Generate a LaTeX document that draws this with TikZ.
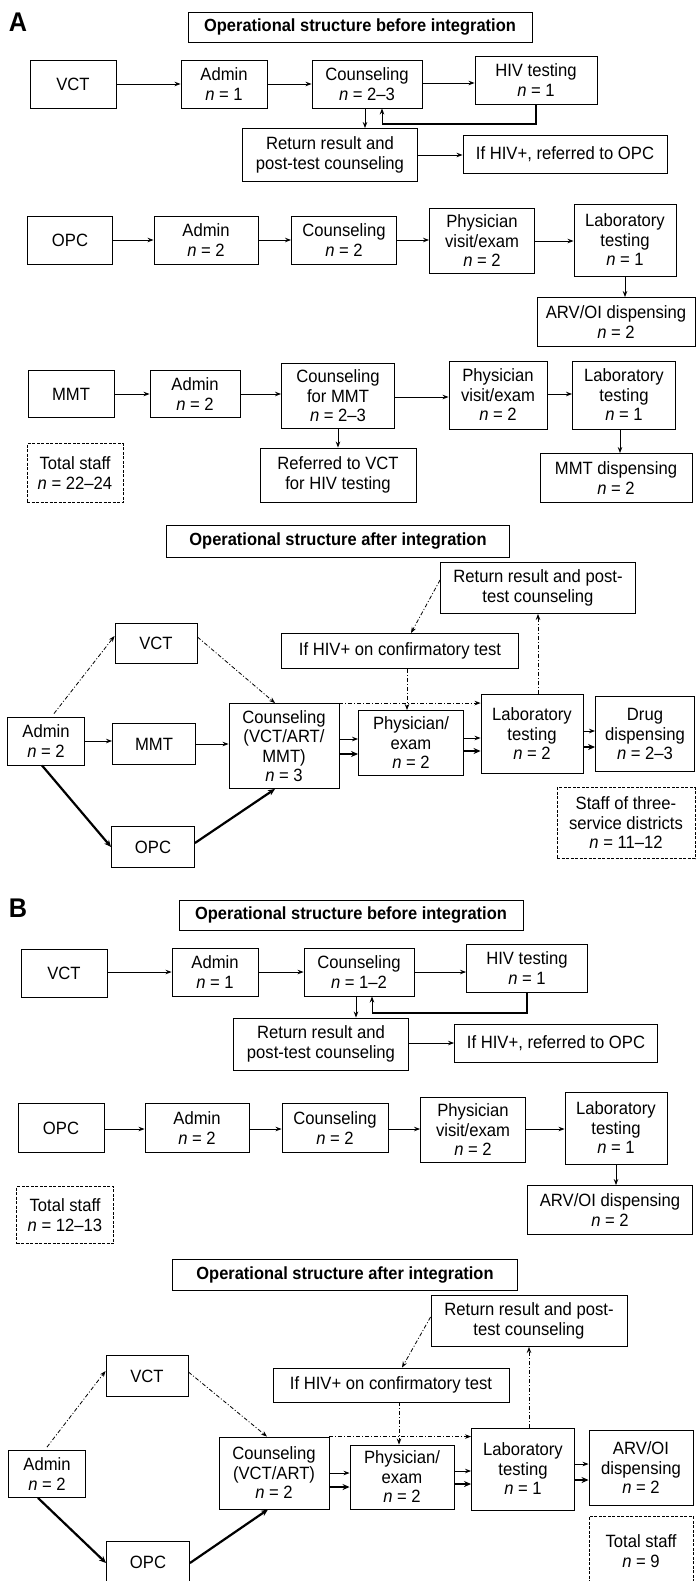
\documentclass[tikz,border=0pt]{standalone}
\usepackage{fontspec}
\setmainfont{Liberation Sans}[FakeStretch=0.935]
\usetikzlibrary{arrows.meta}
\newcommand{\nvar}{\textit{n}}
\tikzset{
 box/.style={draw, line width=0.9pt, align=center, inner sep=0pt, font=\fontsize{17.8}{19.5}\selectfont},
 dbox/.style={box, dash pattern=on 3pt off 1.5pt, line width=0.8pt},
 ttl/.style={box, font=\fontsize{17.6}{19.5}\selectfont\bfseries},
 lbl/.style={font=\fontsize{27}{30}\selectfont\bfseries, inner sep=0pt},
 arr/.style={line width=0.9pt, -{Stealth[length=6pt,width=4.5pt]}},
 tarr/.style={line width=2.2pt, -{Stealth[length=7pt,width=6pt]}},
 darr/.style={line width=0.8pt, dash pattern=on 4pt off 2pt on 1pt off 2pt, -{Stealth[length=6pt,width=4.5pt]}},
}
\begin{document}
\begin{tikzpicture}[x=1pt,y=-1pt]
\fill[white] (0,0) rectangle (696,1581);
\useasboundingbox (0,0) rectangle (696,1581);
\clip (0,0) rectangle (696,1581);

% ===== A: before =====
\node[lbl] (aLab0) at (18,22) {A};
\node[ttl, minimum width=344, minimum height=30] (aTitle) at (360,27) {Operational structure before integration};
\node[box, minimum width=86, minimum height=48] (aVCT) at (73,84) {VCT};
\node[box, minimum width=86, minimum height=48] (aAdm) at (224,84) {Admin\\\nvar{} = 1};
\node[box, minimum width=110, minimum height=48] (aCou) at (367,84) {Counseling\\\nvar{} = 2–3};
\node[box, minimum width=122, minimum height=48] (aHIV) at (536,80) {HIV testing\\\nvar{} = 1};
\node[box, minimum width=175, minimum height=53] (aRet) at (330,155) {Return result and\\post-test counseling};
\node[box, minimum width=204, minimum height=38] (aIf) at (565,154) {If HIV+, referred to OPC};
\draw[arr] (aVCT.east) -- (aVCT.east -| aAdm.west);
\draw[arr] (aAdm.east) -- (aAdm.east -| aCou.west);
\draw[arr] (aCou.east |- 0,83) -- (aHIV.west |- 0,83);
\coordinate (aFb) at (382,124);
\draw[line width=2.2pt] (aHIV.south) |- (aFb);
\draw[arr] (aFb) -- (aFb |- aCou.south);
\draw[arr] (aCou.south -| 365,0) -- (365,0 |- aRet.north);
\draw[arr] (aRet.east) -- (aRet.east -| aIf.west);

\node[box, minimum width=85, minimum height=48] (aOPC) at (70,240) {OPC};
\node[box, minimum width=104, minimum height=48] (aAdm2) at (206,240) {Admin\\\nvar{} = 2};
\node[box, minimum width=105, minimum height=48] (aCou2) at (344,240) {Counseling\\\nvar{} = 2};
\node[box, minimum width=105, minimum height=65] (aPhy) at (482,241) {Physician\\visit/exam\\\nvar{} = 2};
\node[box, minimum width=102, minimum height=72] (aLab) at (625,240) {Laboratory\\testing\\\nvar{} = 1};
\node[box, minimum width=158, minimum height=49] (aARV) at (616,322) {ARV/OI dispensing\\\nvar{} = 2};
\draw[arr] (aOPC.east) -- (aOPC.east -| aAdm2.west);
\draw[arr] (aAdm2.east) -- (aAdm2.east -| aCou2.west);
\draw[arr] (aCou2.east) -- (aCou2.east -| aPhy.west);
\draw[arr] (aPhy.east |- 0,241) -- (aLab.west |- 0,241);
\draw[arr] (aLab.south) -- (aLab.south |- aARV.north);

\node[box, minimum width=86, minimum height=47] (aMMT) at (71,394) {MMT};
\node[box, minimum width=90, minimum height=47] (aAdm3) at (195,394) {Admin\\\nvar{} = 2};
\node[box, minimum width=113, minimum height=65] (aCou3) at (338,396) {Counseling\\for MMT\\\nvar{} = 2–3};
\node[box, minimum width=98, minimum height=68] (aPhy3) at (498,395) {Physician\\visit/exam\\\nvar{} = 2};
\node[box, minimum width=103, minimum height=68] (aLab3) at (624,395) {Laboratory\\testing\\\nvar{} = 1};
\node[box, minimum width=156, minimum height=54] (aRef) at (338,475) {Referred to VCT\\for HIV testing};
\node[box, minimum width=152, minimum height=49] (aMD) at (616,478) {MMT dispensing\\\nvar{} = 2};
\node[dbox, minimum width=96, minimum height=59] (aTot) at (75,473) {Total staff\\\nvar{} = 22–24};
\draw[arr] (aMMT.east) -- (aMMT.east -| aAdm3.west);
\draw[arr] (aAdm3.east |- 0,394) -- (aCou3.west |- 0,394);
\draw[arr] (aCou3.east |- 0,397) -- (aPhy3.west |- 0,397);
\draw[arr] (aPhy3.east |- 0,394) -- (aLab3.west |- 0,394);
\draw[arr] (aCou3.south) -- (aCou3.south |- aRef.north);
\draw[arr] (aLab3.south -| 620,0) -- (620,0 |- aMD.north);

% ===== A: after =====
\node[ttl, minimum width=343, minimum height=32] (aTitle2) at (338,541) {Operational structure after integration};
\node[box, minimum width=195, minimum height=51] (aRet2) at (538,588) {Return result and post-\\test counseling};
\node[box, minimum width=82, minimum height=40] (aVCT2) at (156,643) {VCT};
\node[box, minimum width=237, minimum height=35] (aIf2) at (400,651) {If HIV+ on confirmatory test};
\node[box, minimum width=77, minimum height=48] (aAdm4) at (46,741) {Admin\\\nvar{} = 2};
\node[box, minimum width=83, minimum height=41] (aMMT2) at (154,744) {MMT};
\node[box, minimum width=110, minimum height=85] (aCou4) at (284,746) {Counseling\\(VCT/ART/\\MMT)\\\nvar{} = 3};
\node[box, minimum width=105, minimum height=65] (aPhy4) at (411,743) {Physician/\\exam\\\nvar{} = 2};
\node[box, minimum width=102, minimum height=79] (aLab4) at (532,734) {Laboratory\\testing\\\nvar{} = 2};
\node[box, minimum width=99, minimum height=75] (aDrug) at (645,734) {Drug\\dispensing\\\nvar{} = 2–3};
\node[box, minimum width=83, minimum height=41] (aOPC2) at (153,847) {OPC};
\node[dbox, minimum width=138, minimum height=71] (aStaff) at (626,823) {Staff of three-\\service districts\\\nvar{} = 11–12};
\draw[darr] ([xshift=8pt,yshift=3pt]aAdm4.north) -- ([yshift=7pt]aVCT2.west);
\draw[darr] ([yshift=6pt]aVCT2.east) -- ([xshift=-9pt]aCou4.north);
\draw[arr] (aAdm4.east) -- (aAdm4.east -| aMMT2.west);
\draw[arr] (aMMT2.east) -- (aMMT2.east -| aCou4.west);
\draw[tarr] ([xshift=-4pt]aAdm4.south) -- (aOPC2.west);
\draw[tarr] ([yshift=4pt]aOPC2.east) -- ([xshift=-9pt]aCou4.south);
\draw[arr] (aCou4.east |- 0,739) -- (aPhy4.west |- 0,739);
\draw[tarr] (aCou4.east |- 0,754) -- (aPhy4.west |- 0,754);
\draw[arr] (aPhy4.east |- 0,738) -- (aLab4.west |- 0,738);
\draw[tarr] (aPhy4.east |- 0,751) -- (aLab4.west |- 0,751);
\draw[arr] (aLab4.east |- 0,731) -- (aDrug.west |- 0,731);
\draw[tarr] (aLab4.east |- 0,747) -- (aDrug.west |- 0,747);
\draw[darr] (aCou4.north east) -- (aCou4.north east -| aLab4.west);
\draw[darr] (aIf2.south -| 407,0) -- (407,0 |- aPhy4.north);
\draw[darr] (aLab4.north -| 538,0) -- (538,0 |- aRet2.south);
\draw[darr] ([yshift=8pt]aRet2.west) -- (aIf2.north -| 411,0);

% ===== B: before =====
\node[lbl] (bLab0) at (18,908) {B};
\node[ttl, minimum width=344, minimum height=30] (bTitle) at (351,915) {Operational structure before integration};
\node[box, minimum width=86, minimum height=48] (bVCT) at (64,973) {VCT};
\node[box, minimum width=86, minimum height=48] (bAdm) at (215,972) {Admin\\\nvar{} = 1};
\node[box, minimum width=110, minimum height=48] (bCou) at (359,972) {Counseling\\\nvar{} = 1–2};
\node[box, minimum width=121, minimum height=48] (bHIV) at (527,968) {HIV testing\\\nvar{} = 1};
\node[box, minimum width=175, minimum height=52] (bRet) at (321,1044) {Return result and\\post-test counseling};
\node[box, minimum width=203, minimum height=38] (bIf) at (556,1043) {If HIV+, referred to OPC};
\draw[arr] (bVCT.east |- 0,972) -- (bAdm.west |- 0,972);
\draw[arr] (bAdm.east) -- (bAdm.east -| bCou.west);
\draw[arr] (bCou.east) -- (bCou.east -| bHIV.west);
\coordinate (bFb) at (372,1013);
\draw[line width=2.2pt] (bHIV.south) |- (bFb);
\draw[arr] (bFb) -- (bFb |- bCou.south);
\draw[arr] (bCou.south -| 356,0) -- (356,0 |- bRet.north);
\draw[arr] (bRet.east |- 0,1043) -- (bIf.west |- 0,1043);

\node[box, minimum width=86, minimum height=49] (bOPC) at (61,1128) {OPC};
\node[box, minimum width=104, minimum height=49] (bAdm2) at (197,1128) {Admin\\\nvar{} = 2};
\node[box, minimum width=106, minimum height=49] (bCou2) at (335,1128) {Counseling\\\nvar{} = 2};
\node[box, minimum width=105, minimum height=65] (bPhy) at (473,1130) {Physician\\visit/exam\\\nvar{} = 2};
\node[box, minimum width=102, minimum height=72] (bLab) at (616,1128) {Laboratory\\testing\\\nvar{} = 1};
\node[box, minimum width=165, minimum height=49] (bARV) at (610,1210) {ARV/OI dispensing\\\nvar{} = 2};
\node[dbox, minimum width=97, minimum height=57] (bTot) at (65,1215) {Total staff\\\nvar{} = 12–13};
\draw[arr] (bOPC.east |- 0,1129) -- (bAdm2.west |- 0,1129);
\draw[arr] (bAdm2.east |- 0,1129) -- (bCou2.west |- 0,1129);
\draw[arr] (bCou2.east |- 0,1129) -- (bPhy.west |- 0,1129);
\draw[arr] (bPhy.east |- 0,1129) -- (bLab.west |- 0,1129);
\draw[arr] (bLab.south) -- (bLab.south |- bARV.north);

% ===== B: after =====
\node[ttl, minimum width=345, minimum height=31] (bTitle2) at (345,1275) {Operational structure after integration};
\node[box, minimum width=196, minimum height=51] (bRet2) at (529,1321) {Return result and post-\\test counseling};
\node[box, minimum width=82, minimum height=41] (bVCT2) at (147,1376) {VCT};
\node[box, minimum width=236, minimum height=34] (bIf2) at (391,1385) {If HIV+ on confirmatory test};
\node[box, minimum width=77, minimum height=47] (bAdm3) at (47,1474) {Admin\\\nvar{} = 2};
\node[box, minimum width=110, minimum height=72] (bCou3) at (274,1473) {Counseling\\(VCT/ART)\\\nvar{} = 2};
\node[box, minimum width=104, minimum height=64] (bPhy3) at (402,1477) {Physician/\\exam\\\nvar{} = 2};
\node[box, minimum width=103, minimum height=82] (bLab3) at (523,1469) {Laboratory\\testing\\\nvar{} = 1};
\node[box, minimum width=104, minimum height=75] (bARV2) at (641,1468) {ARV/OI\\dispensing\\\nvar{} = 2};
\node[box, minimum width=83, minimum height=41] (bOPC2) at (148,1562) {OPC};
\node[dbox, minimum width=104, minimum height=70] (bTot2) at (641,1551) {Total staff\\\nvar{} = 9};
\draw[darr] ([yshift=3pt]bAdm3.north) -- ([yshift=5pt]bVCT2.west);
\draw[darr] ([yshift=4pt]bVCT2.east) -- ([xshift=-7pt]bCou3.north);
\draw[tarr] ([xshift=-9pt]bAdm3.south) -- ([yshift=-1pt]bOPC2.west);
\draw[tarr] ([yshift=-1pt]bOPC2.east) -- ([xshift=-6pt]bCou3.south);
\draw[arr] (bCou3.east |- 0,1473) -- (bPhy3.west |- 0,1473);
\draw[tarr] (bCou3.east |- 0,1487) -- (bPhy3.west |- 0,1487);
\draw[arr] (bPhy3.east |- 0,1471) -- (bLab3.west |- 0,1471);
\draw[tarr] (bPhy3.east |- 0,1484) -- (bLab3.west |- 0,1484);
\draw[arr] (bLab3.east |- 0,1464) -- (bARV2.west |- 0,1464);
\draw[tarr] (bLab3.east |- 0,1480) -- (bARV2.west |- 0,1480);
\draw[darr] (bCou3.north east) -- (bCou3.north east -| bLab3.west);
\draw[darr] (bIf2.south -| 399,0) -- (399,0 |- bPhy3.north);
\draw[darr] (bLab3.north -| 529,0) -- (529,0 |- bRet2.south);
\draw[darr] ([yshift=4pt]bRet2.west) -- (bIf2.north -| 402,0);
\end{tikzpicture}
\end{document}
